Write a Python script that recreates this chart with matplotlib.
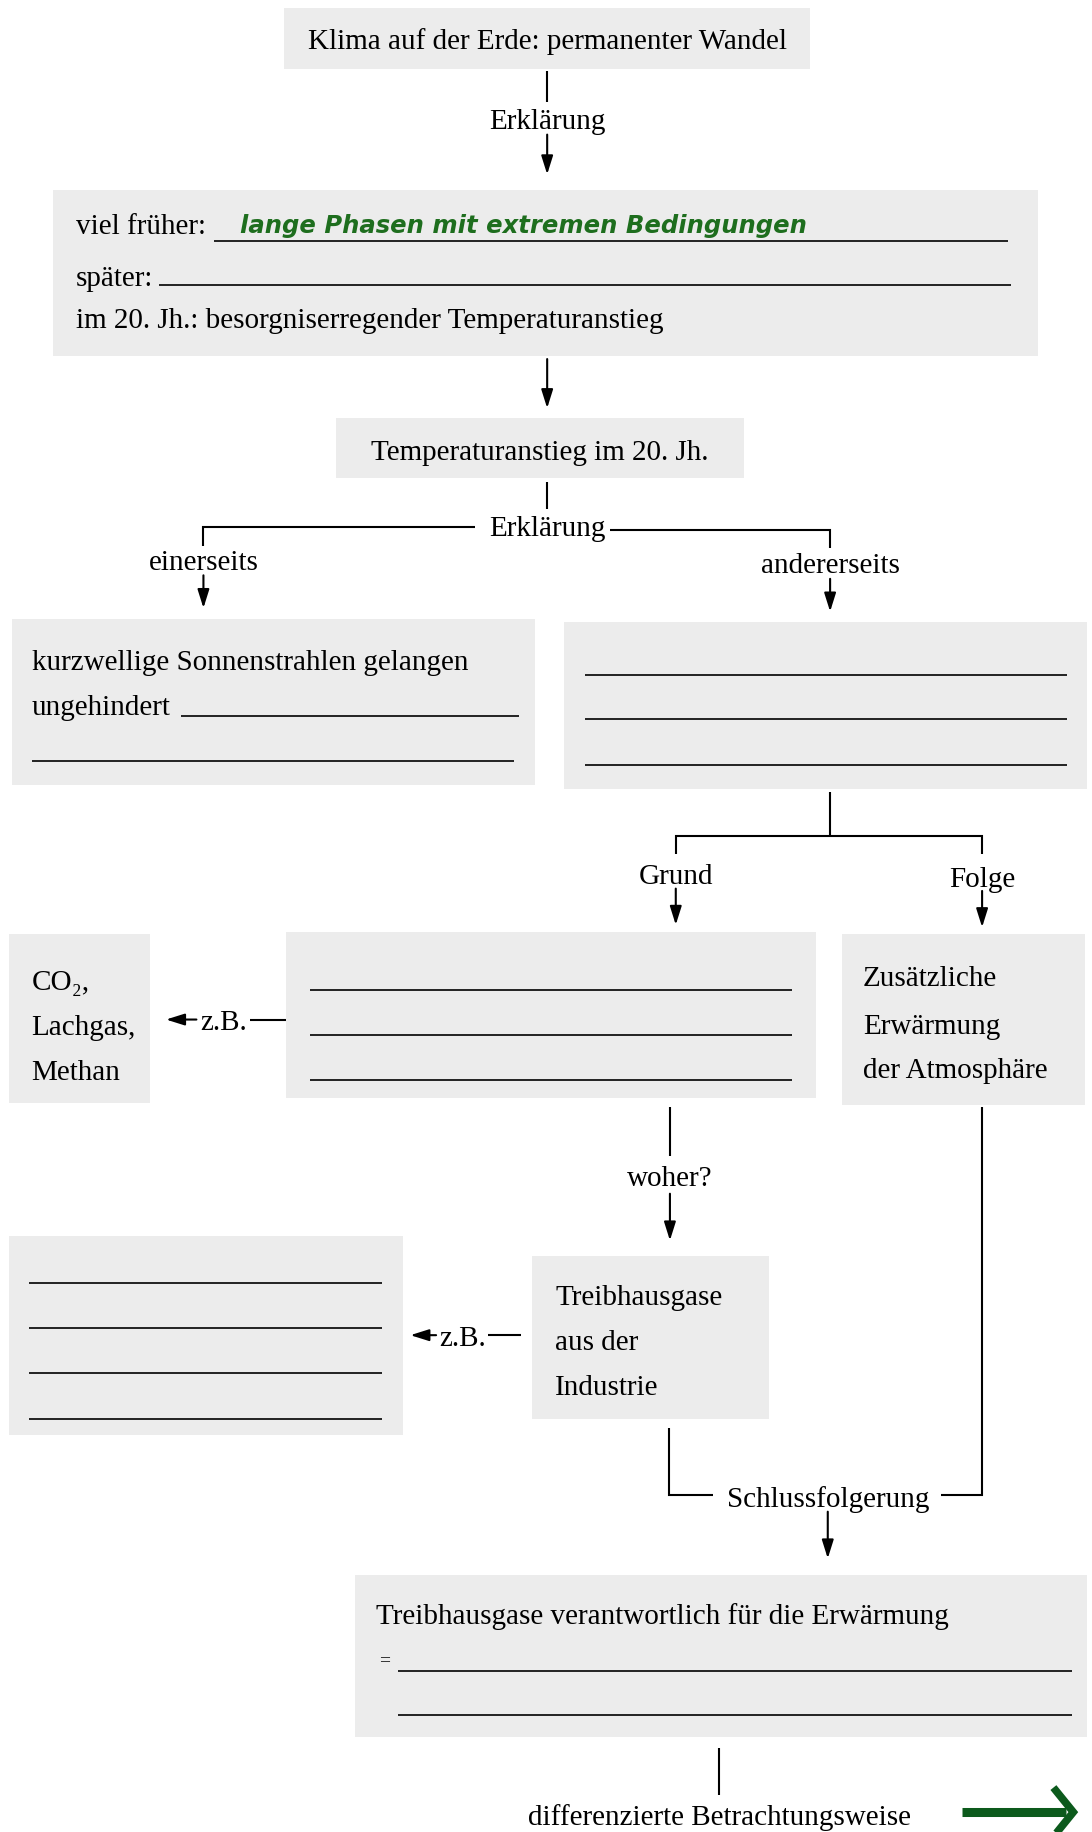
import matplotlib.pyplot as plt

plt.rcParams['font.family'] = ['Liberation Serif', 'DejaVu Serif']

# texts of the scheme
title_top = 'Klima auf der Erde: permanenter Wandel'
word_explain = 'Erklärung'
period_labels = ['viel früher:', 'später:', 'im 20. Jh.: besorgniserregender Temperaturanstieg']
answer_green = 'lange Phasen mit extremen Bedingungen'
title_rise = 'Temperaturanstieg im 20. Jh.'
side_labels = ['einerseits', 'andererseits']
sun_lines = ['kurzwellige Sonnenstrahlen gelangen', 'ungehindert']
branch_labels = ['Grund', 'Folge']
gas_lines = ['CO\u2082,', 'Lachgas,', 'Methan']
warming_lines = ['Zusätzliche', 'Erwärmung', 'der Atmosphäre']
word_where = 'woher?'
industry_lines = ['Treibhausgase', 'aus der', 'Industrie']
word_eg = 'z.B.'
word_conclusion = 'Schlussfolgerung'
result_line = 'Treibhausgase verantwortlich für die Erwärmung'
word_view = 'differenzierte Betrachtungsweise'

BOX = '#ececec'
FS = 21
LW = 1.5

fig = plt.figure(figsize=(10.92, 18.33), dpi=100)
ax = fig.add_axes([0, 0, 1, 1])
ax.set_xlim(0, 934)
ax.set_ylim(1568, 0)
ax.axis('off')


def box(x0, y0, x1, y1):
    ax.add_patch(plt.Rectangle((x0, y0), x1 - x0, y1 - y0, facecolor=BOX, edgecolor='none', zorder=0))


def line(xs, ys, lw=LW, color='black'):
    ax.plot(xs, ys, color=color, lw=lw, solid_capstyle='butt', solid_joinstyle='miter')


def uline(x0, x1, y):
    line([x0, x1], [y, y], lw=1.4, color='#222222')


def arrow(x0, y0, x1, y1):
    ax.annotate('', xy=(x1, y1), xytext=(x0, y0),
                arrowprops=dict(arrowstyle='-|>,head_length=0.7,head_width=0.22', lw=LW,
                                color='black', mutation_scale=16, shrinkA=0, shrinkB=0))


def txt(x, y, s, ha='left', size=FS, **kw):
    # small shift so the x-height sits on the given y
    ax.text(x, y + 2.5, s, ha=ha, va='center', fontsize=size, **kw)


# top box
box(243, 8, 693, 60)
txt(468, 33, title_top, ha='center')
line([468, 468], [62, 88])
txt(468, 102, word_explain, ha='center')
arrow(468, 116, 468, 150)

# history box
box(45, 163, 888, 305)
txt(65, 192, period_labels[0])
uline(183, 862, 207)
txt(205, 191, answer_green, size=17.5, family='DejaVu Sans', weight='bold', style='italic', color='#1e6e1e')
txt(65, 236, period_labels[1])
uline(136, 865, 245)
txt(65, 272, period_labels[2])
arrow(468, 308, 468, 350)

# temperature rise
box(287, 358, 636, 410)
txt(462, 385, title_rise, ha='center')
line([468, 468], [413, 436])
txt(468, 450, word_explain, ha='center')
line([174, 174, 406], [468, 452, 452])
line([522, 710, 710], [454, 454, 470])
txt(174, 479, side_labels[0], ha='center')
arrow(174, 493, 174, 521)
txt(710, 482, side_labels[1], ha='center')
arrow(710, 496, 710, 524)

# two explanation boxes
box(10, 530, 458, 672)
txt(27, 565, sun_lines[0])
txt(27, 603, sun_lines[1])
uline(155, 444, 613)
uline(27, 440, 652)
box(482, 533, 930, 676)
for y in [578, 616, 655]:
    uline(500, 913, y)

# reason / consequence split
line([710, 710], [678, 716])
line([578, 578, 840, 840], [731, 716, 716, 731])
txt(578, 748, branch_labels[0], ha='center')
arrow(578, 761, 578, 792)
txt(840, 750, branch_labels[1], ha='center')
arrow(840, 763, 840, 794)

# gases
box(8, 800, 128, 944)
for y, s in zip([838, 877, 915], gas_lines):
    txt(27, y, s)
arrow(168, 873, 142, 873)
txt(171, 873, word_eg)
line([214, 245], [873, 873])
box(245, 798, 698, 940)
for y in [848, 886, 925]:
    uline(265, 677, y)
box(720, 800, 928, 946)
for y, s in zip([835, 876, 914], warming_lines):
    txt(738, y, s)

# where from
line([573, 573], [948, 990])
txt(573, 1006, word_where, ha='center')
arrow(573, 1022, 573, 1062)
box(8, 1058, 345, 1228)
for y in [1098, 1137, 1175, 1215]:
    uline(25, 327, y)
arrow(373, 1143, 351, 1143)
txt(376, 1143, word_eg)
line([417, 446], [1143, 1143])
box(455, 1075, 658, 1215)
for y, s in zip([1108, 1146, 1185], industry_lines):
    txt(475, y, s)

# conclusion
line([572, 572, 610], [1222, 1280, 1280])
txt(708, 1280, word_conclusion, ha='center')
line([805, 840, 840], [1280, 1280, 948])
arrow(708, 1294, 708, 1334)
box(304, 1348, 930, 1487)
txt(322, 1380, result_line)
txt(324, 1418, '=', size=14)
uline(340, 917, 1430)
uline(340, 917, 1468)
line([615, 615], [1496, 1536])
txt(615, 1552, word_view, ha='center')

# green arrow
line([823, 912], [1551, 1551], lw=6.5, color='#0c5a1c')
line([901, 918, 901], [1530, 1551, 1572], lw=5.5, color='#0c5a1c')

fig.savefig('out.png', dpi=100)
